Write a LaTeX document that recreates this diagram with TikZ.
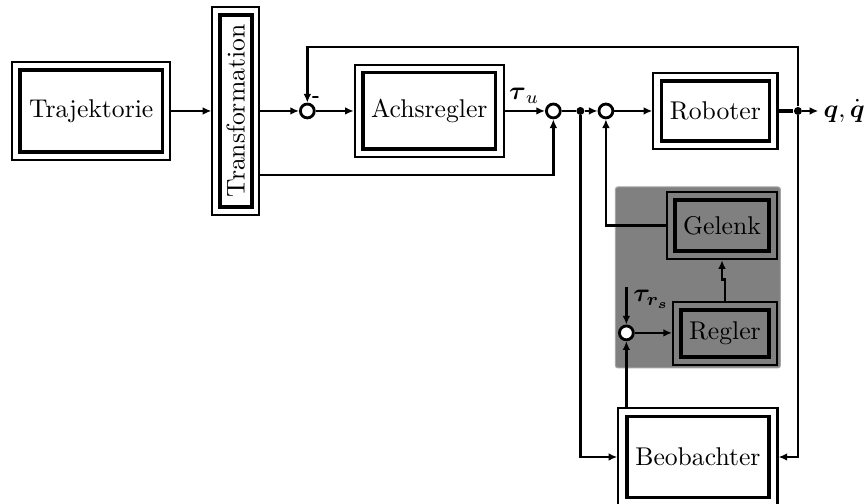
\documentclass[tikz,border=0pt]{standalone}
\usepackage{amsmath}
\usetikzlibrary{arrows.meta}
\begin{document}
\begin{tikzpicture}[>={Latex[length=3.4pt,width=3pt]},
  outerbox/.style={draw,line width=0.8pt,inner sep=0pt},
  innerbox/.style={draw,line width=1.4pt,inner sep=0pt},
  sumpt/.style={circle,draw,line width=1.1pt,fill=white,minimum size=0.19cm,inner sep=0pt},
  dotpt/.style={circle,fill,minimum size=0.11cm,inner sep=0pt},
  sig/.style={line width=0.95pt}]
\useasboundingbox (0,0) rectangle (11.89,-6.90);
% Stabilisierung
\fill[black!50,draw=black!35,rounded corners=1pt] (8.43,-2.56) rectangle (10.69,-5.04);
% Bloecke
\node[outerbox,minimum width=2.16cm,minimum height=1.34cm] (trajO) at (1.25,-1.52) {};
\node[innerbox,minimum width=1.95cm,minimum height=1.12cm] (traj) at (1.25,-1.52) {Trajektorie};
\node[outerbox,minimum width=0.64cm,minimum height=2.85cm] (trafoO) at (3.23,-1.52) {};
\node[innerbox,minimum width=2.63cm,minimum height=0.44cm,rotate=90] (trafo) at (3.23,-1.52) {Transformation};
\node[outerbox,minimum width=2.04cm,minimum height=1.27cm] (achsO) at (5.88,-1.52) {};
\node[innerbox,minimum width=1.82cm,minimum height=1.05cm] (achs) at (5.88,-1.52) {Achsregler};
\node[outerbox,minimum width=1.70cm,minimum height=1.04cm] (robO) at (9.80,-1.52) {};
\node[innerbox,minimum width=1.48cm,minimum height=0.82cm] (rob) at (9.80,-1.52) {Roboter};
\node[outerbox,minimum width=1.51cm,minimum height=0.92cm] (gelO) at (9.89,-3.09) {};
\node[innerbox,minimum width=1.29cm,minimum height=0.70cm] (gel) at (9.89,-3.09) {Gelenk};
\node[outerbox,minimum width=1.42cm,minimum height=0.86cm] (regO) at (9.93,-4.57) {};
\node[innerbox,minimum width=1.21cm,minimum height=0.64cm] (reg) at (9.93,-4.57) {Regler};
\node[outerbox,minimum width=2.18cm,minimum height=1.34cm] (beoO) at (9.56,-6.26) {};
\node[innerbox,minimum width=1.95cm,minimum height=1.11cm] (beo) at (9.56,-6.26) {Beobachter};
% Summen und Verzweigungen
\node[sumpt] (sum1) at (4.21,-1.52) {};
\node[sumpt] (sum2) at (7.58,-1.52) {};
\node[sumpt] (sum3) at (8.30,-1.52) {};
\node[sumpt] (sum4) at (8.58,-4.56) {};
\node[dotpt] (dot1) at (7.95,-1.52) {};
\node[dotpt] (dot2) at (10.93,-1.52) {};
\coordinate (qout) at (11.21,-1.52);
\coordinate (trs) at (8.58,-3.93);
\node[font=\scriptsize\bfseries,inner sep=0pt] (minus) at (4.33,-1.36) {-};
\node (tauu) at (7.18,-1.31) {$\boldsymbol{\tau}_u$};
\node (taurs) at (8.92,-4.10) {$\boldsymbol{\tau_{r_s}}$};
\node[anchor=west,inner sep=1pt] (q) at ([xshift=0.03cm]qout) {$\boldsymbol{q},\dot{\boldsymbol{q}}$};
% Signale
\draw[sig,->] (trajO.east) -- (trafoO.west);
\draw[sig,->] (trafoO.east) -- (sum1.west);
\draw[sig,->] (sum1.east) -- (achsO.west);
\draw[sig,->] (achsO.east) -- (sum2.west);
\draw[sig] (sum2.east) -- (dot1);
\draw[sig,->] (dot1) -- (sum3.west);
\draw[sig,->] (sum3.east) -- (robO.west);
\draw[sig,line width=1.3pt] (robO.east) -- (dot2);
\draw[sig,->] (dot2) -- (qout);
\draw[sig,->] (dot2) -- ++(0,0.88) -| (sum1.north);
\draw[sig,->] ([yshift=-0.88cm]trafoO.east) -| (sum2.south);
\draw[sig,->] (gelO.west) -| (sum3.south);
\draw[sig,->] (regO.north) -- ++(0,0.30) -| (gelO.south);
\draw[sig,->] (sum4.east) -- (sum4 -| regO.west);
\draw[sig,->] (trs) -- (sum4.north);
\draw[sig,->] (sum4 |- beoO.north) -- (sum4.south);
\draw[sig,->] (dot1) |- (beoO.west);
\draw[sig,->] (dot2) |- (beoO.east);
\end{tikzpicture}
\end{document}
